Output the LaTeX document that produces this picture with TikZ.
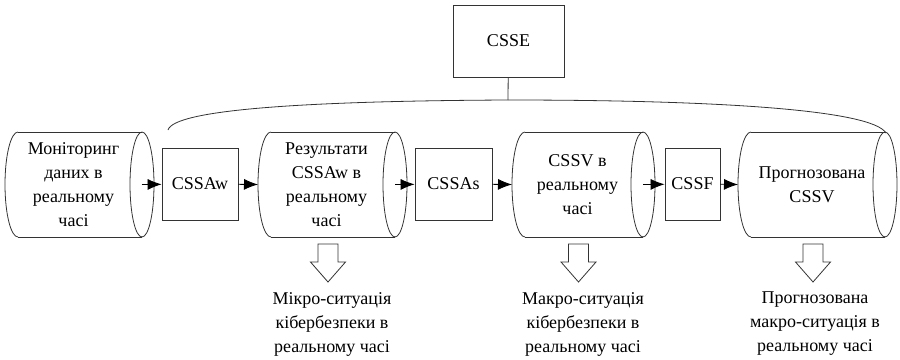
\documentclass[tikz,border=0pt]{standalone}
\usepackage{fontspec}
\setmainfont{Liberation Serif}
\usetikzlibrary{arrows.meta}

\tikzset{
  line/.style={draw=black!80, line width=0.8pt},
  drumtext/.style={align=center, inner sep=0pt, font=\fontsize{18}{24}\selectfont},
  proc/.style={rectangle, line, minimum height=72pt, inner sep=0pt, font=\fontsize{18}{24}\selectfont},
  flow/.style={-{Latex[length=14pt,width=11pt]}, line width=0.8pt},
  note/.style={align=center, font=\fontsize{18}{24}\selectfont},
  hollow/.style={line, fill=white}
}

\begin{document}
\begin{tikzpicture}[x=1pt,y=-1pt]
\useasboundingbox (0,0) rectangle (900,359);
% барабани (накопичувачі даних): ліва межа / права межа / номер
\foreach \l/\r/\n in {5/154/1, 258/407/2, 512/655/3, 738/897/4}{
  \draw[line] (\l+13,132) -- (\r-12,132) (\l+13,237) -- (\r-12,237);
  \draw[line] (\l+13,132) arc[start angle=90, end angle=270, x radius=13pt, y radius=52.5pt];
  \draw[line] (\r-12,184.5) ellipse [x radius=12pt, y radius=52.5pt];
  \coordinate (w\n) at (\l,184.5);      % вхід барабана
  \coordinate (e\n) at (\r-12,184.5);   % вихід барабана
}
\node[drumtext] (mon) at (73.5,184.5) {Моніторинг\\даних в\\реальному\\часі};
\node[drumtext] (res) at (326.5,184.5) {Результати\\CSSAw в\\реальному\\часі};
\node[drumtext] (cssv) at (577.5,184.5) {CSSV в\\реальному\\часі};
\node[drumtext] (prog) at (812,184.5) {Прогнозована\\CSSV};
\node[proc, minimum width=111pt] (csse) at (508.5,41) {CSSE};     % верхній блок CSSE
\node[proc, minimum width=76pt] (cssaw) at (200,184) {CSSAw};
\node[proc, minimum width=77pt] (cssas) at (453.5,184) {CSSAs};
\node[proc, minimum width=55pt] (cssf) at (692.5,184) {CSSF};
% стрілки між блоками
\draw[flow] (e1) -- (cssaw);
\draw[flow] (cssaw) -- (w2);
\draw[flow] (e2) -- (cssas);
\draw[flow] (cssas) -- (w3);
\draw[flow] (e3) -- (cssf);
\draw[flow] (cssf) -- (w4);
% дужка над ланцюжком
\coordinate (top) at (508,100);
\draw[line] (168,130) .. controls (174,110) and (300,101) .. (top) .. controls (720,100) and (872,110) .. (886,133);
\draw[line] (csse) -- (top);
% порожнисті стрілки вниз
\foreach \x in {328,578.5,813}
  \draw[hollow] (\x-10,244) -- (\x+10,244) -- (\x+10,262) -- (\x+17.5,262) -- (\x,282) -- (\x-17.5,262) -- (\x-10,262) -- cycle;
\node[note] (micro) at (332,324) {Мікро-ситуація\\кібербезпеки в\\реальному часі};
\node[note] (macro) at (583,324) {Макро-ситуація\\кібербезпеки в\\реальному часі};
\node[note] (fore) at (815,324) {Прогнозована\\макро-ситуація в\\реальному часі};
\end{tikzpicture}
\end{document}
